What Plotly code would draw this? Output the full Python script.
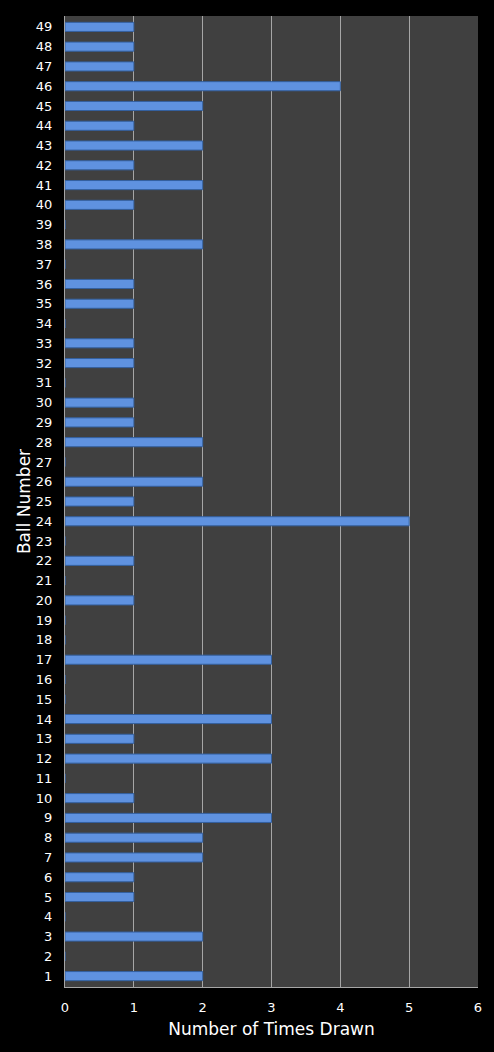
import plotly.graph_objects as go

# nomor bola dan berapa kali keluar
ball_numbers = list(range(1, 50))
times_drawn = [2, 0, 2, 0, 1, 1, 2, 2, 3, 1,
               0, 3, 1, 3, 0, 0, 3, 0, 0, 1,
               0, 1, 0, 5, 1, 2, 0, 2, 1, 1,
               0, 1, 1, 0, 1, 1, 0, 2, 0, 1,
               2, 1, 2, 1, 2, 4, 1, 1, 1]
x_ticks = [0, 1, 2, 3, 4, 5, 6]

fig = go.Figure(go.Bar(
    x=times_drawn,
    y=ball_numbers,
    orientation="h",
    width=0.46,
    marker=dict(color="#5f92e0", line=dict(color="#34609f", width=1)),
))

fig.update_layout(
    width=494, height=1052,
    paper_bgcolor="black",
    plot_bgcolor="#404040",
    margin=dict(l=65, r=16, t=16, b=65),
    font=dict(family="DejaVu Sans", color="white", size=13),
    showlegend=False,
)
fig.update_xaxes(
    range=[0, 6], tickvals=x_ticks, showgrid=True, gridcolor="#a6a6a6", gridwidth=1,
    zeroline=False, showline=True, linecolor="#a6a6a6", linewidth=1,
    ticks="", tickfont=dict(size=13), ticklabelstandoff=8,
    title=dict(text="Number of Times Drawn", font=dict(size=17), standoff=9),
)
fig.update_yaxes(
    range=[0.45, 49.55], tickvals=ball_numbers, showgrid=False,
    zeroline=False, showline=True, linecolor="#a6a6a6", linewidth=1,
    ticks="", tickfont=dict(size=13), ticklabelstandoff=9,
    title=dict(text="Ball Number", font=dict(size=17), standoff=0),
)

# hilangkan margin bawaan body supaya grafik pas di jendela
fig.write_html("out.html", config={"displayModeBar": False},
               post_script="document.body.style.margin='0';")
